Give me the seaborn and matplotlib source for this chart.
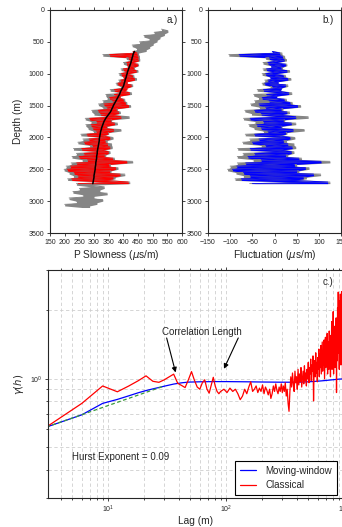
import numpy as np
import pandas as pd
import matplotlib
matplotlib.use("Agg")
import matplotlib.pyplot as plt
from matplotlib.ticker import NullFormatter
import seaborn as sns

# ---- datos del registro (profundidad cada 25 m) ----
depth_full = np.arange(300, 3101, 25)
slow_full = [
    530, 552, 505, 540, 470, 525, 488, 515, 455, 502, 430, 490, 445, 478,
    433, 452, 330, 455, 410, 456, 432, 400, 452, 414, 438, 392, 450, 416, 385,
    436, 400, 445, 384, 413, 375, 432, 390,
    412, 355, 401, 428, 340, 389, 345, 405,
    330, 412, 315, 425, 330, 380, 292, 390,
    300, 358, 420, 270, 360, 290, 380, 272,
    345, 280, 392, 298, 350, 255, 332, 365,
    262, 345, 245, 360, 285, 362, 230, 330,
    355, 240, 340, 225, 370, 260, 432, 222,
    356, 205, 382, 198, 358, 215, 405, 230,
    372, 210, 345, 422, 240,
    290, 335, 250, 320, 228, 345, 262, 300, 215, 330, 240, 310, 200, 285, 260,
]

depth_win = np.arange(650, 2726, 25)
slow_win = [
    433, 447, 353, 450, 418, 451, 432, 411, 449, 414, 435, 400, 444, 416, 393,
    431, 400, 438, 391, 413, 381, 427, 395,
    412, 369, 401, 421, 369, 389, 353, 400,
    363, 407, 334, 418, 344, 376, 314, 384,
    322, 358, 392, 285, 357, 309, 370, 290,
    343, 296, 367, 308, 347, 276, 330, 354,
    283, 338, 267, 346, 295, 354, 258, 327,
    349, 266, 335, 249, 364, 278, 412, 241,
    351, 220, 374, 209, 353, 232, 389, 245,
    365, 224, 338, 417, 246,
]
trend_win = [
    438, 435, 433, 432, 430, 429, 427, 426, 424, 422, 420, 418, 416, 414, 413,
    411, 410, 408, 406, 405, 403, 402, 400,
    397, 394, 391, 389, 387, 384, 381, 378,
    375, 372, 369, 366, 364, 361, 359, 356,
    352, 348, 344, 340, 337, 334, 332, 330,
    328, 326, 325, 323, 322, 321, 320, 319,
    318, 318, 317, 316, 315, 314, 313, 312,
    311, 311, 310, 309, 309, 308, 307, 306,
    306, 305, 304, 304, 303, 302, 301, 300,
    300, 299, 298, 297, 296,
]

# ---- semivariograma ----
lag_mw = [3, 6, 9, 12, 15, 18, 21, 24, 27, 30, 36, 42, 48, 60, 80, 100,
          150, 200, 300, 400, 500, 600, 700, 800, 900, 1000]
gamma_mw = [0.614, 0.695, 0.78, 0.812, 0.842, 0.868, 0.888, 0.903, 0.916,
            0.928, 0.948, 0.96, 0.967, 0.97, 0.972, 0.972, 0.97, 0.968,
            0.966, 0.966, 0.97, 0.976, 0.983, 0.99, 0.996, 1.0]

lag_classical = np.concatenate([np.arange(3, 91, 3), np.arange(96, 1000, 6)])
gamma_classical = [
    0.614, 0.78, 0.93, 0.877, 0.93, 0.98, 1.03, 0.975, 0.965, 0.99,
    1.02, 1.048, 0.955, 0.935, 0.915, 0.99, 1.075, 0.985, 0.92, 0.90,
    0.96, 0.99, 0.90, 0.865, 0.94, 1.015, 0.93, 0.88, 0.86, 0.88,
    0.90, 0.87, 0.91, 0.88, 0.90, 0.86, 0.81, 0.84, 0.90, 0.86,
    0.92, 0.97, 0.88, 0.90, 0.93, 0.87, 0.91, 0.88, 0.94, 0.86,
    0.92, 0.89, 0.85, 0.90, 0.82, 0.86, 0.93, 0.88, 0.95, 0.89,
    0.86, 0.92, 0.88, 0.95, 0.87, 0.93, 0.88, 0.96, 0.84, 0.90,
    0.78, 0.72, 0.88, 1.02, 0.92, 1.06, 0.95, 0.88, 1.08, 0.96,
    1.02, 0.90, 1.10, 0.94, 1.05, 0.97, 1.12, 0.92, 1.00, 1.08,
    0.95, 1.14, 0.98, 1.06, 0.93, 1.10, 1.00, 1.18, 0.96, 1.12,
    1.05, 1.22, 0.98, 1.15, 1.08, 1.26, 0.80, 1.10, 1.20, 1.02,
    1.30, 1.06, 1.18, 0.97, 1.24, 1.10, 1.35, 1.02, 1.28, 1.12,
    1.40, 1.05, 1.22, 1.45, 1.08, 1.30, 1.15, 1.48, 1.00, 1.25,
    1.52, 1.12, 1.35, 1.20, 1.58, 1.05, 1.30, 1.45, 1.10, 1.62,
    1.15, 1.40, 1.02, 1.55, 1.20, 1.78, 1.10, 1.45, 1.30, 1.97,
    1.05, 1.50, 1.25, 1.70, 1.12, 1.60, 1.35, 1.85, 0.87, 1.55,
    1.20, 2.05, 1.40, 2.40, 1.30, 1.75, 1.10, 2.20, 1.45, 2.35,
    1.60, 1.15, 2.00, 2.41, 1.40, 2.20, 1.00, 1.90, 1.30, 2.30,
    0.95,
]
hurst_lag = [3, 30]
hurst_gamma = [0.614, 0.93]

# fluctuaciones = registro - tendencia
slow_full = np.array(slow_full)
slow_win = np.array(slow_win)
trend_win = np.array(trend_win)
i0 = int((650 - 300) / 25)
gray_win = slow_full[i0:i0 + len(depth_win)]
fluct_red = slow_win - trend_win
fluct_gray = gray_win - trend_win


def envelope(v):
    # minimo / maximo de muestras vecinas, como se ve el registro denso
    s = pd.Series(v, dtype=float)
    r = s.rolling(2, min_periods=1)
    return r.min().values, r.max().values


def draw_log(ax, values, depth, color):
    lo, hi = envelope(values)
    ax.fill_betweenx(depth, lo, hi, color=color, lw=0)
    sns.lineplot(x=values, y=depth, sort=False, estimator=None,
                 color=color, lw=0.6, ax=ax)


GRAY = "#858585"

sns.set_style("ticks")
plt.rcParams["font.family"] = ["Liberation Sans", "DejaVu Sans"]
plt.rcParams["axes.linewidth"] = 0.8

fig = plt.figure(figsize=(3.42, 5.27), dpi=100)
W, H = 342, 527
def box(x0, y0, x1, y1):
    return [x0 / W, 1 - y1 / H, (x1 - x0) / W, (y1 - y0) / H]

axa = fig.add_axes(box(50, 10, 182, 233))
axb = fig.add_axes(box(208, 10, 341, 233))
axc = fig.add_axes(box(48, 270, 344, 498))

# a.) lentitud P
draw_log(axa, slow_full, depth_full, GRAY)
draw_log(axa, slow_win, depth_win, "red")
sns.lineplot(x=trend_win, y=depth_win, sort=False, estimator=None,
             color="black", lw=1.1, ax=axa)
axa.set_xlim(150, 600)
axa.set_xticks(np.arange(150, 601, 50))
axa.set_xlabel(r"P Slowness ($\mu$s/m)", fontsize=7.3, labelpad=2)
axa.set_ylabel("Depth (m)", fontsize=7.3, labelpad=4)
axa.text(0.97, 0.955, "a.)", transform=axa.transAxes, ha="right", va="center", fontsize=7)

# b.) fluctuacion
draw_log(axb, fluct_gray, depth_win, GRAY)
draw_log(axb, fluct_red, depth_win, "blue")
axb.set_xlim(-150, 150)
axb.set_xticks(np.arange(-150, 151, 50))
axb.set_xlabel(r"Fluctuation ($\mu$s/m)", fontsize=7.3, labelpad=2)
axb.set_ylabel("")
axb.text(0.942, 0.955, "b.)", transform=axb.transAxes, ha="right", va="center", fontsize=7)

for ax in (axa, axb):
    ax.set_ylim(3500, 0)
    ax.set_yticks(np.arange(0, 3501, 500))
    ax.tick_params(which="major", direction="out", length=2.5, width=0.6,
                   labelsize=5, pad=1.5, top=True, right=True)

# c.) semivariograma
sns.lineplot(x=lag_mw, y=gamma_mw, color="blue", lw=0.9, label="Moving-window", ax=axc)
sns.lineplot(x=lag_classical, y=gamma_classical, color="red", lw=0.9,
             label="Classical", ax=axc)
sns.lineplot(x=hurst_lag, y=hurst_gamma, color="#3a9a3a", lw=0.9,
             ax=axc).lines[-1].set_linestyle((0, (3, 2)))
axc.set_xscale("log")
axc.set_yscale("log")
axc.set_xlim(3.1, 1000)
axc.set_ylim(0.3, 3.0)
axc.yaxis.set_minor_formatter(NullFormatter())
axc.xaxis.set_minor_formatter(NullFormatter())
axc.grid(True, which="both", ls=(0, (4, 3)), color="#cfcfcf", lw=0.6)
axc.set_axisbelow(True)
axc.tick_params(which="both", direction="out", labelsize=5, pad=1.5,
                top=True, right=True, width=0.6)
axc.tick_params(which="major", length=2.5)
axc.tick_params(which="minor", length=1.5)
axc.set_xlabel("Lag (m)", fontsize=7.3, labelpad=1)
axc.set_ylabel(r"$\gamma(h)$", fontsize=7.3, labelpad=3)

axc.text(62.5, 1.61, "Correlation Length", ha="center", va="center", fontsize=7)
arrow = dict(arrowstyle="-|>", color="black", lw=0.8, mutation_scale=7,
             shrinkA=0, shrinkB=0)
axc.annotate("", xy=(37.4, 1.066), xytext=(31.4, 1.51), arrowprops=arrow)
axc.annotate("", xy=(96.1, 1.106), xytext=(127, 1.51), arrowprops=arrow)
axc.text(5.0, 0.456, "Hurst Exponent = 0.09", ha="left", va="center", fontsize=7)
axc.text(0.963, 0.947, "c.)", transform=axc.transAxes, ha="right", va="center", fontsize=7)

handles, labels = axc.get_legend_handles_labels()
leg = axc.legend(handles[:2], labels[:2], loc="lower right",
                 bbox_to_anchor=(0.976, 0.013), borderaxespad=0, fontsize=7,
                 frameon=True, fancybox=False, edgecolor="black",
                 handlelength=1.6, handletextpad=1.0, labelspacing=0.45,
                 borderpad=0.5)
leg.get_frame().set_linewidth(0.8)
leg.get_frame().set_alpha(1)

fig.savefig("out.png", dpi=100)
